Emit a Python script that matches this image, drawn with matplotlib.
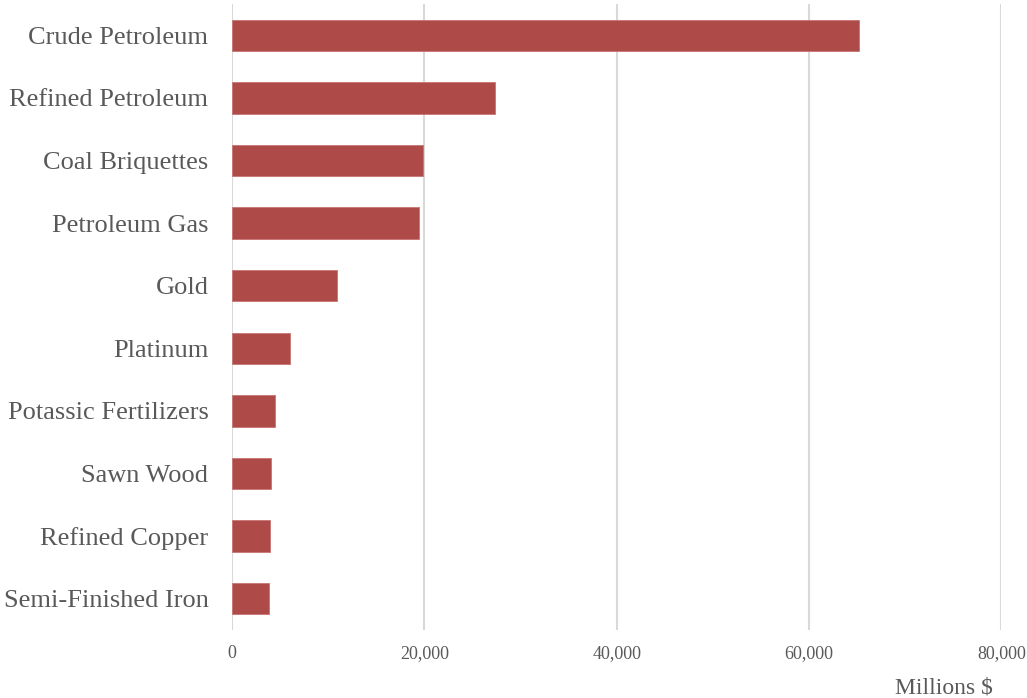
import matplotlib
matplotlib.use("Agg")
import matplotlib.pyplot as plt
from matplotlib.ticker import FuncFormatter

# Top exports, millions of dollars
products = ["Crude Petroleum", "Refined Petroleum", "Coal Briquettes", "Petroleum Gas",
            "Gold", "Platinum", "Potassic Fertilizers", "Sawn Wood", "Refined Copper",
            "Semi-Finished Iron"]
values = [65230, 27350, 19900, 19400, 10950, 6050, 4440, 4060, 3990, 3820]
x_ticks = [0, 20000, 40000, 60000, 80000]

text_color = "#595959"
plt.rcParams["font.family"] = ["Liberation Serif", "DejaVu Serif"]

fig = plt.figure(figsize=(10.27, 6.98), dpi=100)
ax = fig.add_axes([0.2259, 0.0974, 0.975 - 0.2259, 0.9943 - 0.0974])

ax.barh(range(len(products)), values, height=0.5, color="#AE4A47",
        edgecolor="#C77572", linewidth=0.6, zorder=3)

ax.set_ylim(len(products) - 0.5, -0.5)
ax.set_xlim(0, 80000)
ax.set_yticks(range(len(products)))
ax.set_yticklabels(products, fontsize=19, color=text_color)
ax.set_xticks(x_ticks)
ax.xaxis.set_major_formatter(FuncFormatter(lambda v, p: f"{int(v):,}"))
ax.tick_params(axis="x", labelsize=13, labelcolor=text_color, length=0, pad=11)
ax.tick_params(axis="y", length=0, pad=17)

ax.grid(axis="x", color="#D9D9D9", linewidth=1.5, zorder=0)
for s in ax.spines.values():
    s.set_visible(False)

fig.text(0.919, 0.007, "Millions $", fontsize=17, color=text_color, ha="center")

fig.savefig("out.png", dpi=100)
